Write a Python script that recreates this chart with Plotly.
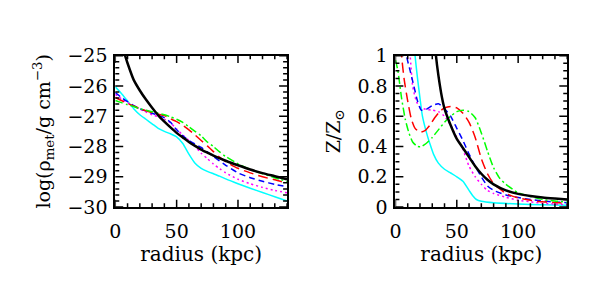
import plotly.graph_objects as go

# ---------------- data: left panel (log metal density) ----------------
r_black_l = [2, 5, 8, 10, 15, 20, 25, 30, 35, 40, 45, 50, 55, 60, 65, 70, 75, 80, 90, 100, 110, 120, 130, 140]
v_black_l = [-23.9, -24.6, -25.0, -25.25, -25.8, -26.15, -26.45, -26.72, -26.97, -27.18, -27.37, -27.55, -27.7, -27.85, -27.98, -28.1, -28.2, -28.3, -28.47, -28.62, -28.76, -28.88, -28.98, -29.08]

r_l = [0, 5, 10, 15, 20, 25, 30, 35, 40, 45, 50, 55, 60, 65, 70, 75, 80, 85, 90, 100, 110, 120, 130, 140]
v_cyan_l = [-26.03, -26.25, -26.5, -26.75, -26.95, -27.1, -27.25, -27.4, -27.5, -27.58, -27.68, -27.9, -28.25, -28.55, -28.72, -28.82, -28.9, -28.98, -29.07, -29.23, -29.38, -29.52, -29.66, -29.8]
v_red_l = [-26.38, -26.48, -26.58, -26.66, -26.75, -26.82, -26.88, -26.93, -26.98, -27.08, -27.18, -27.3, -27.45, -27.62, -27.8, -27.98, -28.17, -28.35, -28.5, -28.72, -28.87, -29.0, -29.1, -29.21]
v_green_l = [-26.48, -26.55, -26.62, -26.68, -26.75, -26.8, -26.85, -26.9, -26.95, -27.02, -27.1, -27.2, -27.35, -27.5, -27.65, -27.85, -28.0, -28.18, -28.33, -28.57, -28.75, -28.9, -29.03, -29.16]
v_blue_l = [-26.22, -26.38, -26.52, -26.65, -26.75, -26.83, -26.9, -26.97, -27.05, -27.2, -27.45, -27.65, -27.8, -27.92, -28.03, -28.18, -28.33, -28.48, -28.62, -28.87, -29.03, -29.15, -29.25, -29.33]
v_magenta_l = [-26.28, -26.42, -26.55, -26.66, -26.76, -26.86, -26.95, -27.02, -27.1, -27.22, -27.42, -27.62, -27.8, -28.0, -28.22, -28.4, -28.58, -28.73, -28.87, -29.08, -29.23, -29.35, -29.45, -29.53]

# ---------------- data: right panel (metallicity Z/Zsun) ----------------
r_black_r = [30, 33, 35, 38, 40, 45, 50, 55, 60, 65, 70, 75, 80, 90, 100, 110, 120, 130, 140]
z_black_r = [1.3, 1.0, 0.87, 0.72, 0.65, 0.54, 0.45, 0.39, 0.33, 0.27, 0.22, 0.18, 0.15, 0.11, 0.087, 0.073, 0.063, 0.056, 0.05]

r_cyan_r = [13, 16, 18, 20, 22, 25, 28, 31, 35, 40, 45, 50, 55, 60, 63, 66, 70, 80, 100, 120, 140]
z_cyan_r = [1.3, 1.0, 0.85, 0.72, 0.6, 0.5, 0.42, 0.35, 0.29, 0.25, 0.225, 0.2, 0.17, 0.11, 0.075, 0.05, 0.038, 0.028, 0.02, 0.015, 0.012]

r_red_r = [3, 5, 7, 10, 13, 16, 20, 24, 28, 32, 36, 40, 45, 50, 55, 60, 65, 70, 75, 80, 85, 90, 100, 110, 120, 130, 140]
z_red_r = [1.25, 1.0, 0.85, 0.7, 0.58, 0.52, 0.495, 0.505, 0.54, 0.59, 0.63, 0.655, 0.665, 0.655, 0.62, 0.56, 0.46, 0.32, 0.22, 0.155, 0.12, 0.09, 0.06, 0.045, 0.035, 0.03, 0.025]

r_blue_r = [6, 9, 12, 15, 18, 21, 25, 30, 35, 40, 45, 50, 55, 60, 65, 70, 75, 80, 90, 100, 110, 120, 130, 140]
z_blue_r = [1.25, 1.0, 0.9, 0.8, 0.7, 0.64, 0.645, 0.67, 0.683, 0.65, 0.6, 0.52, 0.44, 0.35, 0.27, 0.2, 0.14, 0.11, 0.08, 0.063, 0.05, 0.04, 0.033, 0.029]

r_magenta_r = [9, 12, 14, 17, 20, 25, 30, 35, 40, 45, 50, 55, 60, 65, 70, 75, 80, 90, 100, 110, 120, 130, 140]
z_magenta_r = [1.25, 1.0, 0.8, 0.7, 0.66, 0.645, 0.64, 0.63, 0.6, 0.54, 0.46, 0.38, 0.27, 0.2, 0.15, 0.11, 0.09, 0.065, 0.045, 0.035, 0.025, 0.02, 0.016]

r_green_r = [0, 2, 5, 8, 11, 14, 18, 21, 25, 30, 35, 40, 45, 50, 55, 60, 65, 70, 75, 80, 85, 90, 100, 110, 120, 130, 140]
z_green_r = [0.97, 0.9, 0.72, 0.58, 0.49, 0.43, 0.40, 0.40, 0.42, 0.46, 0.51, 0.56, 0.6, 0.63, 0.64, 0.63, 0.59, 0.49, 0.37, 0.26, 0.19, 0.15, 0.095, 0.07, 0.05, 0.04, 0.033]

# tick positions
x_ticks = [0, 10, 20, 30, 40, 50, 60, 70, 80, 90, 100, 110, 120, 130, 140]
x_major = [0, 50, 100]
yl_ticks = [-30 + 0.2 * i for i in range(26)]
yr_ticks = [0.05 * i for i in range(21)]

# ---------------- styling ----------------
FONT = "DejaVu Serif"
styles = {
    "black": dict(color="black", width=2.5, dash="solid"),
    "cyan": dict(color="#00ffff", width=1.5, dash="solid"),
    "red": dict(color="#ff0000", width=1.5, dash="10px,5px"),
    "blue": dict(color="#0000ff", width=1.5, dash="6px,4px"),
    "magenta": dict(color="#ff00ff", width=1.5, dash="2px,3px"),
    "green": dict(color="#00ff00", width=1.5, dash="8px,3px,2px,3px"),
}

fig = go.Figure()

def add(x, y, key, xa, ya):
    fig.add_trace(go.Scatter(x=x, y=y, mode="lines", xaxis=xa, yaxis=ya,
                             line=dict(shape="spline", smoothing=0.6, **styles[key])))

# left panel
add(r_l, v_cyan_l, "cyan", "x", "y")
add(r_l, v_magenta_l, "magenta", "x", "y")
add(r_l, v_blue_l, "blue", "x", "y")
add(r_l, v_red_l, "red", "x", "y")
add(r_l, v_green_l, "green", "x", "y")
add(r_black_l, v_black_l, "black", "x", "y")

# right panel
add(r_cyan_r, z_cyan_r, "cyan", "x2", "y2")
add(r_magenta_r, z_magenta_r, "magenta", "x2", "y2")
add(r_blue_r, z_blue_r, "blue", "x2", "y2")
add(r_red_r, z_red_r, "red", "x2", "y2")
add(r_green_r, z_green_r, "green", "x2", "y2")
add(r_black_r, z_black_r, "black", "x2", "y2")

W, H = 598, 286
PH, PW = 164.0, 173.5
ydom = [1 - 212.4 / H, 1 - 48.4 / H]
MAJ, MIN = 8.0, 4.0
tick_line = dict(color="black", width=1.5)

# inside ticks on all four sides of each panel (drawn through the axes' scales)
shapes = []
for xa, ya in (("x", "y"), ("x2", "y2")):
    for t in x_ticks:
        L = (MAJ if t in x_major else MIN) / PH
        shapes.append(dict(type="line", xref=xa, yref=ya + " domain", x0=t, x1=t, y0=0, y1=L, line=tick_line))
        shapes.append(dict(type="line", xref=xa, yref=ya + " domain", x0=t, x1=t, y0=1, y1=1 - L, line=tick_line))
for t in yl_ticks:
    L = (MAJ if abs(t - round(t)) < 1e-6 else MIN) / PW
    shapes.append(dict(type="line", xref="x domain", yref="y", x0=0, x1=L, y0=t, y1=t, line=tick_line))
    shapes.append(dict(type="line", xref="x domain", yref="y", x0=1, x1=1 - L, y0=t, y1=t, line=tick_line))
for t in yr_ticks:
    L = (MAJ if abs(t / 0.2 - round(t / 0.2)) < 1e-6 else MIN) / PW
    shapes.append(dict(type="line", xref="x2 domain", yref="y2", x0=0, x1=L, y0=t, y1=t, line=tick_line))
    shapes.append(dict(type="line", xref="x2 domain", yref="y2", x0=1, x1=1 - L, y0=t, y1=t, line=tick_line))

base = dict(showgrid=False, zeroline=False, showline=True, linecolor="black", linewidth=2,
            ticks="", mirror=True, layer="above traces",
            tickfont=dict(family=FONT, size=19, color="black"))
xtitle = dict(text="radius (kpc)", font=dict(family=FONT, size=20, color="black"), standoff=6)

fig.update_layout(
    width=W, height=H, showlegend=False, hovermode=False,
    margin=dict(l=0, r=0, t=0, b=0),
    plot_bgcolor="white", paper_bgcolor="white",
    shapes=shapes,
    xaxis=dict(base, domain=[110.4 / W, 283.9 / W], anchor="y", range=[0, 140], dtick=50,
               ticklabelstandoff=6, title=xtitle),
    yaxis=dict(base, domain=ydom, anchor="x", range=[-30, -25], dtick=1, ticklabelstandoff=2,
               title=dict(text="log(ρ<sub>met</sub>/g cm<sup>−3</sup>)",
                          font=dict(family=FONT, size=19, color="black"), standoff=12)),
    xaxis2=dict(base, domain=[393.4 / W, 566.9 / W], anchor="y2", range=[0, 140], dtick=50,
                ticklabelstandoff=6, title=xtitle),
    yaxis2=dict(base, domain=ydom, anchor="x2", range=[0, 1], dtick=0.2, ticklabelstandoff=2,
                title=dict(text="Z/Z<sub>⊙</sub>", font=dict(family=FONT, size=19, color="black"), standoff=12)),
)

fig.write_html("out.html", config={"displayModeBar": False},
               post_script="document.body.style.margin='0';")
